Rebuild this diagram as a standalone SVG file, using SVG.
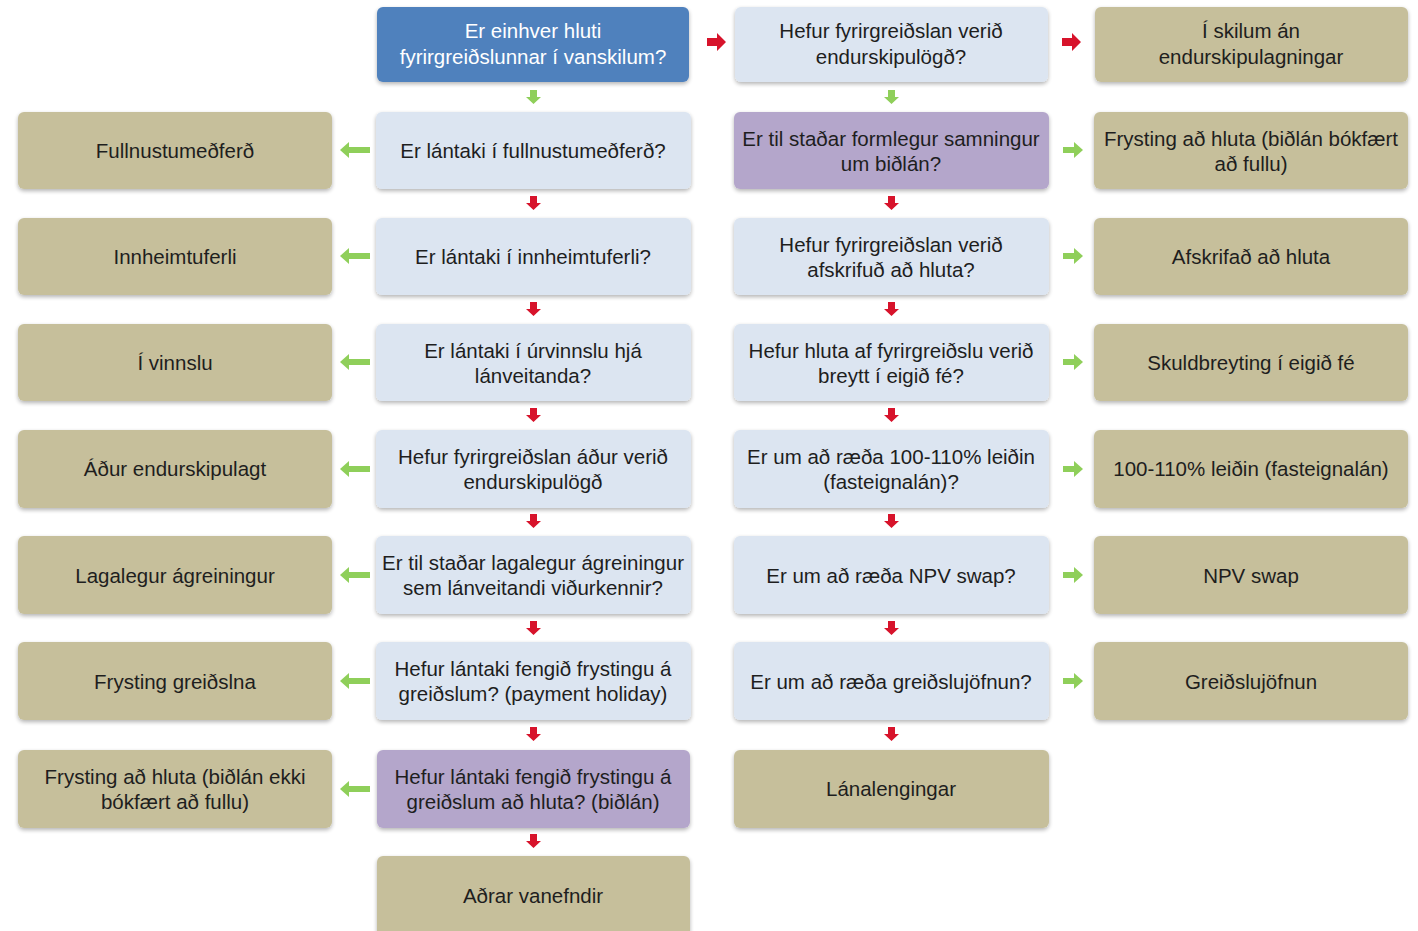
<svg xmlns="http://www.w3.org/2000/svg" width="1418" height="931" viewBox="0 0 1418 931">
<defs>
<filter id="sh" x="-5%" y="-10%" width="110%" height="125%">
<feGaussianBlur in="SourceAlpha" stdDeviation="2"/>
<feOffset dx="0" dy="2" result="b"/>
<feComponentTransfer><feFuncA type="linear" slope="0.3"/></feComponentTransfer>
<feMerge><feMergeNode/><feMergeNode in="SourceGraphic"/></feMerge>
</filter>
<style>
rect{filter:url(#sh);}
.q{fill:#dce5f1;}
.t{fill:#c6bf9b;}
.p{fill:#b4a6cb;}
.b{fill:#4f81bd;}
text{font-family:"Liberation Sans",Arial,sans-serif;font-size:20.5px;fill:#1e1e1e;text-anchor:middle;}
.w{fill:#ffffff;}
.red{fill:#d7132b;}
.grn{fill:#8fcf5a;}
</style>
</defs>
<rect width="1418" height="931" fill="#ffffff" style="filter:none"/>

<g id="n_top"><rect class="b" x="377" y="7" width="312" height="75" rx="6"/><text class="w" x="533" y="38">Er einhver hluti</text><text class="w" x="533" y="64">fyrirgreiðslunnar í vanskilum?</text></g>
<g id="n_restr"><rect class="q" x="735" y="7" width="313" height="75" rx="6"/><text x="891" y="38">Hefur fyrirgreiðslan verið</text><text x="891" y="64">endurskipulögð?</text></g>
<g id="n_iskilum"><rect class="t" x="1095" y="7" width="313" height="75" rx="6"/><text x="1251" y="38">Í skilum án</text><text x="1251" y="64">endurskipulagningar</text></g>

<g id="n_full"><rect class="t" x="18" y="112" width="314" height="77" rx="6"/><text x="175" y="158">Fullnustumeðferð</text></g>
<g id="n_q1"><rect class="q" x="376" y="112" width="315" height="77" rx="6"/><text x="533" y="158">Er lántaki í fullnustumeðferð?</text></g>
<g id="n_formleg"><rect class="p" x="734" y="112" width="315" height="77" rx="6"/><text x="891" y="146">Er til staðar formlegur samningur</text><text x="891" y="171">um biðlán?</text></g>
<g id="n_fryst1"><rect class="t" x="1094" y="112" width="314" height="77" rx="6"/><text x="1251" y="146">Frysting að hluta (biðlán bókfært</text><text x="1251" y="171">að fullu)</text></g>

<g id="n_innh"><rect class="t" x="18" y="218" width="314" height="77" rx="6"/><text x="175" y="264">Innheimtuferli</text></g>
<g id="n_q2"><rect class="q" x="376" y="218" width="315" height="77" rx="6"/><text x="533" y="264">Er lántaki í innheimtuferli?</text></g>
<g id="n_afskr"><rect class="q" x="734" y="218" width="315" height="77" rx="6"/><text x="891" y="252">Hefur fyrirgreiðslan verið</text><text x="891" y="277">afskrifuð að hluta?</text></g>
<g id="n_afskr2"><rect class="t" x="1094" y="218" width="314" height="77" rx="6"/><text x="1251" y="264">Afskrifað að hluta</text></g>

<g id="n_vinnslu"><rect class="t" x="18" y="324" width="314" height="77" rx="6"/><text x="175" y="370">Í vinnslu</text></g>
<g id="n_q3"><rect class="q" x="376" y="324" width="315" height="77" rx="6"/><text x="533" y="358">Er lántaki í úrvinnslu hjá</text><text x="533" y="383">lánveitanda?</text></g>
<g id="n_eigid"><rect class="q" x="734" y="324" width="315" height="77" rx="6"/><text x="891" y="358">Hefur hluta af fyrirgreiðslu verið</text><text x="891" y="383">breytt í eigið fé?</text></g>
<g id="n_skuld"><rect class="t" x="1094" y="324" width="314" height="77" rx="6"/><text x="1251" y="370">Skuldbreyting í eigið fé</text></g>

<g id="n_adur"><rect class="t" x="18" y="430" width="314" height="78" rx="6"/><text x="175" y="476">Áður endurskipulagt</text></g>
<g id="n_q4"><rect class="q" x="376" y="430" width="315" height="78" rx="6"/><text x="533" y="464">Hefur fyrirgreiðslan áður verið</text><text x="533" y="489">endurskipulögð</text></g>
<g id="n_110q"><rect class="q" x="734" y="430" width="315" height="78" rx="6"/><text x="891" y="464">Er um að ræða 100-110% leiðin</text><text x="891" y="489">(fasteignalán)?</text></g>
<g id="n_110"><rect class="t" x="1094" y="430" width="314" height="78" rx="6"/><text x="1251" y="476">100-110% leiðin (fasteignalán)</text></g>

<g id="n_lagal"><rect class="t" x="18" y="536" width="314" height="78" rx="6"/><text x="175" y="583">Lagalegur ágreiningur</text></g>
<g id="n_q5"><rect class="q" x="376" y="536" width="315" height="78" rx="6"/><text x="533" y="570">Er til staðar lagalegur ágreiningur</text><text x="533" y="595">sem lánveitandi viðurkennir?</text></g>
<g id="n_npvq"><rect class="q" x="734" y="536" width="315" height="78" rx="6"/><text x="891" y="583">Er um að ræða NPV swap?</text></g>
<g id="n_npv"><rect class="t" x="1094" y="536" width="314" height="78" rx="6"/><text x="1251" y="583">NPV swap</text></g>

<g id="n_frystg"><rect class="t" x="18" y="642" width="314" height="78" rx="6"/><text x="175" y="689">Frysting greiðslna</text></g>
<g id="n_q6"><rect class="q" x="376" y="642" width="315" height="78" rx="6"/><text x="533" y="676">Hefur lántaki fengið frystingu á</text><text x="533" y="701">greiðslum? (payment holiday)</text></g>
<g id="n_gjq"><rect class="q" x="734" y="642" width="315" height="78" rx="6"/><text x="891" y="689">Er um að ræða greiðslujöfnun?</text></g>
<g id="n_gj"><rect class="t" x="1094" y="642" width="314" height="78" rx="6"/><text x="1251" y="689">Greiðslujöfnun</text></g>

<g id="n_fryst2"><rect class="t" x="18" y="750" width="314" height="78" rx="6"/><text x="175" y="784">Frysting að hluta (biðlán ekki</text><text x="175" y="809">bókfært að fullu)</text></g>
<g id="n_q7"><rect class="p" x="377" y="750" width="313" height="78" rx="6"/><text x="533" y="784">Hefur lántaki fengið frystingu á</text><text x="533" y="809">greiðslum að hluta? (biðlán)</text></g>
<g id="n_lana"><rect class="t" x="734" y="750" width="315" height="78" rx="6"/><text x="891" y="796">Lánalengingar</text></g>

<g id="n_adrar"><rect class="t" x="377" y="856" width="313" height="82" rx="6"/><text x="533" y="903">Aðrar vanefndir</text></g>

<g id="connectors">
<path class="red" d="M707,38 h10 v-5 l9,9 l-9,9 v-5 h-10 z"/>
<path class="red" d="M1062,38 h10 v-5 l9,9 l-9,9 v-5 h-10 z"/>
<path class="grn" d="M530,90 h7 v7 h4 l-7.5,7 l-7.5,-7 h4 z"/>
<path class="grn" d="M888,90 h7 v7 h4 l-7.5,7 l-7.5,-7 h4 z"/>
<path class="red" d="M530,196 h7 v7 h4 l-7.5,7 l-7.5,-7 h4 z"/>
<path class="red" d="M530,302 h7 v7 h4 l-7.5,7 l-7.5,-7 h4 z"/>
<path class="red" d="M530,408 h7 v7 h4 l-7.5,7 l-7.5,-7 h4 z"/>
<path class="red" d="M530,514 h7 v7 h4 l-7.5,7 l-7.5,-7 h4 z"/>
<path class="red" d="M530,621 h7 v7 h4 l-7.5,7 l-7.5,-7 h4 z"/>
<path class="red" d="M530,727 h7 v7 h4 l-7.5,7 l-7.5,-7 h4 z"/>
<path class="red" d="M530,834 h7 v7 h4 l-7.5,7 l-7.5,-7 h4 z"/>
<path class="red" d="M888,196 h7 v7 h4 l-7.5,7 l-7.5,-7 h4 z"/>
<path class="red" d="M888,302 h7 v7 h4 l-7.5,7 l-7.5,-7 h4 z"/>
<path class="red" d="M888,408 h7 v7 h4 l-7.5,7 l-7.5,-7 h4 z"/>
<path class="red" d="M888,514 h7 v7 h4 l-7.5,7 l-7.5,-7 h4 z"/>
<path class="red" d="M888,621 h7 v7 h4 l-7.5,7 l-7.5,-7 h4 z"/>
<path class="red" d="M888,727 h7 v7 h4 l-7.5,7 l-7.5,-7 h4 z"/>
<path class="grn" d="M370,147 h-21 v-5 l-9,8 l9,8 v-5 h21 z"/>
<path class="grn" d="M370,253 h-21 v-5 l-9,8 l9,8 v-5 h21 z"/>
<path class="grn" d="M370,359 h-21 v-5 l-9,8 l9,8 v-5 h21 z"/>
<path class="grn" d="M370,466 h-21 v-5 l-9,8 l9,8 v-5 h21 z"/>
<path class="grn" d="M370,572 h-21 v-5 l-9,8 l9,8 v-5 h21 z"/>
<path class="grn" d="M370,678 h-21 v-5 l-9,8 l9,8 v-5 h21 z"/>
<path class="grn" d="M370,786 h-21 v-5 l-9,8 l9,8 v-5 h21 z"/>
<path class="grn" d="M1063,147 h11 v-5 l9,8 l-9,8 v-5 h-11 z"/>
<path class="grn" d="M1063,253 h11 v-5 l9,8 l-9,8 v-5 h-11 z"/>
<path class="grn" d="M1063,359 h11 v-5 l9,8 l-9,8 v-5 h-11 z"/>
<path class="grn" d="M1063,466 h11 v-5 l9,8 l-9,8 v-5 h-11 z"/>
<path class="grn" d="M1063,572 h11 v-5 l9,8 l-9,8 v-5 h-11 z"/>
<path class="grn" d="M1063,678 h11 v-5 l9,8 l-9,8 v-5 h-11 z"/>
</g>
</svg>
